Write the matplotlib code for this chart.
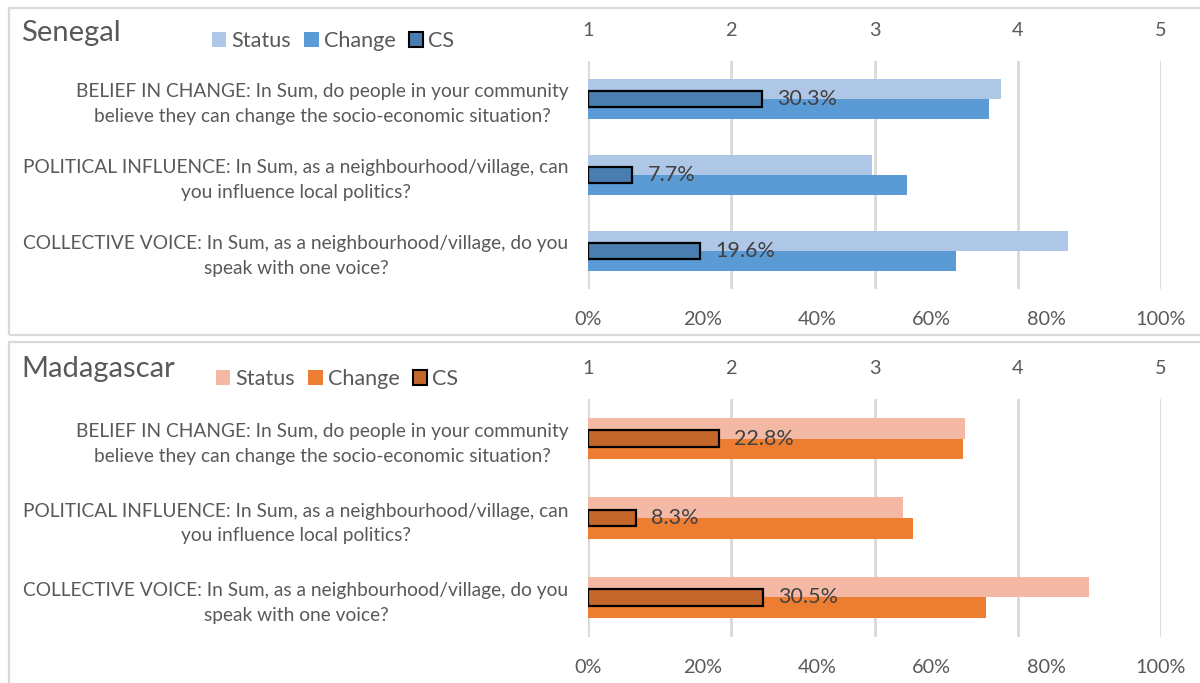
import matplotlib
matplotlib.use("Agg")
import matplotlib.pyplot as plt
from matplotlib.patches import Rectangle, Patch

plt.rcParams['font.family'] = ['Lato', 'DejaVu Sans']

# Survey questions (top to bottom)
questions = [
    "BELIEF IN CHANGE: In Sum, do people in your community\nbelieve they can change the socio-economic situation?",
    "POLITICAL INFLUENCE: In Sum, as a neighbourhood/village, can\nyou influence local politics?",
    "COLLECTIVE VOICE: In Sum, as a neighbourhood/village, do you\nspeak with one voice?",
]
scale_ticks = [1, 2, 3, 4, 5]
pct_ticks = [0, 20, 40, 60, 80, 100]

# Senegal: mean scores on the 1-5 scale and CS share in percent
senegal_status = [3.88, 2.98, 4.35]
senegal_change = [3.80, 3.23, 3.57]
senegal_cs = [30.3, 7.7, 19.6]

# Madagascar
madagascar_status = [3.63, 3.20, 4.50]
madagascar_change = [3.62, 3.27, 3.78]
madagascar_cs = [22.8, 8.3, 30.5]

W, H = 1200, 683
fig = plt.figure(figsize=(W / 100, H / 100), dpi=100)

TXT = '#595959'
GRID = '#D9D9D9'


def fx(px):
    return px / W


def fy(py):
    return 1 - py / H


def panel(top_px, bottom_px, title, title_y, legend_x, legend_y,
          status, change, cs, colors):
    c_status, c_change, c_cs = colors
    ax = fig.add_axes([fx(588), fy(bottom_px), fx(1161) - fx(588),
                       fy(top_px) - fy(bottom_px)])
    ypos = list(range(len(questions)))
    bh = 0.26
    ax.barh([y - bh / 2 for y in ypos], [s - 1 for s in status], left=1,
            height=bh, color=c_status, zorder=2)
    ax.barh([y + bh / 2 for y in ypos], [c - 1 for c in change], left=1,
            height=bh, color=c_change, zorder=2)
    ax.set_xlim(1, 5)
    ax.set_ylim(len(questions) - 0.5, -0.5)
    ax.grid(axis='x', color=GRID, lw=2)
    ax.set_axisbelow(True)
    ax.set_yticks(ypos)
    ax.set_yticklabels(questions, linespacing=1.55)
    for lab in ax.get_yticklabels():
        lab.set_multialignment('center')
    ax.tick_params(axis='y', length=0, pad=14, labelsize=13.8, labelcolor=TXT)
    for s in ax.spines.values():
        s.set_visible(False)

    axp = ax.twiny()
    axp.barh(ypos, cs, height=0.21, color=c_cs, edgecolor='black', lw=1.6,
             zorder=3)
    for y, v in zip(ypos, cs):
        axp.text(v + 2.7, y, f"{v}%", va='center', ha='left',
                 fontsize=15.5, color='#404040', zorder=4)
    axp.set_xlim(0, 100)
    axp.set_xticks(pct_ticks)
    axp.set_xticklabels([f"{t}%" for t in pct_ticks])
    axp.xaxis.tick_bottom()
    axp.tick_params(axis='x', length=0, pad=16, labelsize=14.3, labelcolor=TXT)
    for s in axp.spines.values():
        s.set_visible(False)

    # 1-5 scale on top (set after the twin so it is not reset)
    ax.set_xticks(scale_ticks)
    ax.set_xticklabels([str(t) for t in scale_ticks])
    ax.xaxis.tick_top()
    ax.tick_params(axis='x', length=0, pad=16, labelsize=14.3, labelcolor=TXT)

    fig.text(fx(21), fy(title_y), title, fontsize=21, color=TXT,
             va='center', ha='left')
    handles = [Patch(facecolor=c_status, edgecolor='none', label='Status'),
               Patch(facecolor=c_change, edgecolor='none', label='Change'),
               Patch(facecolor=c_cs, edgecolor='black', lw=1.5, label='CS')]
    fig.legend(handles=handles, loc='center', ncol=3,
               bbox_to_anchor=(fx(legend_x), fy(legend_y)), frameon=False,
               fontsize=15.6, labelcolor=TXT, handlelength=0.68,
               handleheight=0.68, handletextpad=0.23, columnspacing=0.6,
               borderpad=0, borderaxespad=0)


panel(61, 289, "Senegal", 33, 333, 41, senegal_status, senegal_change,
      senegal_cs, ('#AFC7E6', '#5B9BD5', '#4A7EB1'))
panel(399, 637, "Madagascar", 369, 337, 379, madagascar_status,
      madagascar_change, madagascar_cs, ('#F4B9A5', '#ED7D31', '#C5672A'))

# Panel frames
fig.add_artist(Rectangle((fx(9), fy(335)), fx(1215) - fx(9), fy(8) - fy(335),
                         transform=fig.transFigure, fill=False,
                         edgecolor=GRID, lw=1.6))
fig.add_artist(Rectangle((fx(9), fy(700)), fx(1215) - fx(9), fy(342) - fy(700),
                         transform=fig.transFigure, fill=False,
                         edgecolor=GRID, lw=1.6))

fig.savefig("out.png", dpi=100)
